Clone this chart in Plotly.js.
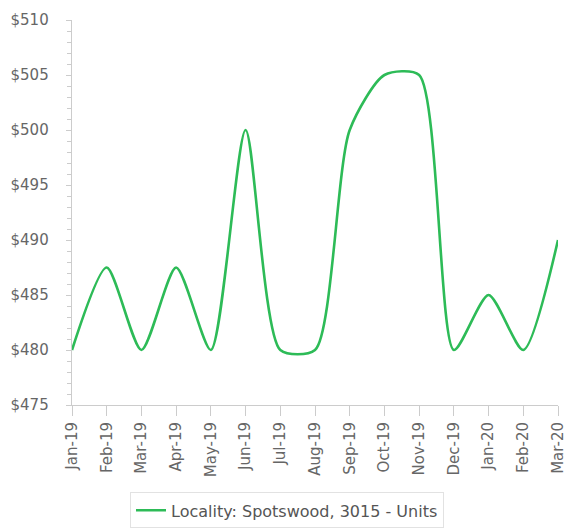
<!DOCTYPE html>
<html><head><meta charset="utf-8">
<script src="https://cdn.plot.ly/plotly-3.0.1.min.js"></script>
<style>body{margin:0;background:#fff}#c{width:574px;height:530px}</style>
</head><body><div id="c"></div>
<script>
const months = ["Jan-19","Feb-19","Mar-19","Apr-19","May-19","Jun-19","Jul-19","Aug-19","Sep-19","Oct-19","Nov-19","Dec-19","Jan-20","Feb-20","Mar-20"];
const values = [480,487.5,480,487.5,480,500,480,480,500,505,505,480,485,480,490];
const seriesName = "Locality: Spotswood, 3015 - Units";
const yTicks = [475,480,485,490,495,500,505,510];
const yTickText = yTicks.map(v => '$' + v + '\u00a0\u00a0\u00a0');

Plotly.newPlot('c', [{
  x: months, y: values, type: 'scatter', mode: 'lines', name: seriesName,
  line: {color: '#2dbb57', width: 2.6, shape: 'spline', smoothing: 0.7},
  showlegend: true
}], {
  width: 574, height: 530,
  margin: {l: 72, r: 16, t: 20, b: 125},
  paper_bgcolor: '#fff', plot_bgcolor: '#fff',
  font: {family: 'DejaVu Sans, Verdana, sans-serif', color: '#666', size: 15},
  xaxis: {
    type: 'category', range: [0, 14], showgrid: false, zeroline: false, automargin: false,
    showline: true, linecolor: '#ccc', linewidth: 1,
    ticks: 'outside', ticklen: 10, tickcolor: '#ccc', tickangle: -90,
    tickfont: {size: 15, color: '#666'}
  },
  yaxis: {
    range: [475, 510], tickvals: yTicks, ticktext: yTickText, showgrid: false, zeroline: false, automargin: false,
    showline: true, linecolor: '#ccc', linewidth: 1,
    ticks: 'outside', ticklen: 5, tickcolor: '#ccc',
    minor: {dtick: 1, ticks: 'outside', ticklen: 4, tickcolor: '#ccc', showgrid: false},
    tickfont: {size: 15, color: '#666'}
  },
  legend: {
    orientation: 'h', x: 0.5, xref: 'container', xanchor: 'center',
    y: 0.071, yref: 'container', yanchor: 'top',
    bordercolor: '#e2e2e2', borderwidth: 1, font: {size: 16, color: '#555'}
  },
  showlegend: true
}, {displayModeBar: false, staticPlot: true});
</script></body></html>
